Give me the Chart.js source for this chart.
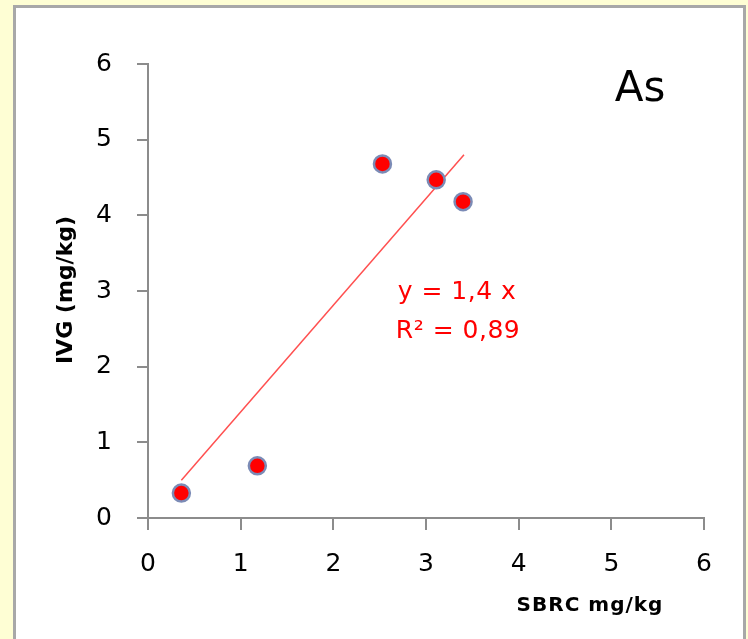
<!DOCTYPE html>
<html>
<head>
<meta charset="utf-8">
<script src="https://cdn.jsdelivr.net/npm/chart.js@4/dist/chart.umd.min.js"></script>
<style>
  html, body { margin: 0; padding: 0; }
  body { width: 748px; height: 639px; background: #fefed4; position: relative; overflow: hidden; }
  .frame { position: absolute; left: 13px; top: 5px; width: 727px; height: 650px; background: #fff; border: 3px solid #a8a8a8; }
  #wrap { position: absolute; left: 0; top: 0; width: 748px; height: 639px; }
</style>
</head>
<body>
<div class="frame"></div>
<div id="wrap"><canvas id="chart" width="748" height="639"></canvas></div>
<script>
// valori (SBRC vs IVG, As)
const sbrc = [0.36, 1.18, 2.53, 3.11, 3.40];
const ivg = [0.33, 0.69, 4.68, 4.47, 4.18];

// retta di tendenza y = 1,4 x (estremi letti)
const trendX = [0.36, 3.41];
const trendY = [0.50, 4.80];

const xTicks = [0, 1, 2, 3, 4, 5, 6];
const yTicks = [0, 1, 2, 3, 4, 5, 6];

const points = sbrc.map((x, i) => ({ x: x, y: ivg[i] }));
const trend = trendX.map((x, i) => ({ x: x, y: trendY[i] }));

const tickFont = { family: "DejaVu Sans", size: 25 };

// testi: titoli assi, etichetta As, equazione
const textPlugin = {
  id: "texts",
  afterDraw(chart) {
    const ctx = chart.ctx;
    ctx.save();
    ctx.fillStyle = "#000";
    ctx.textAlign = "center";
    ctx.textBaseline = "middle";

    ctx.font = "42px 'DejaVu Sans'";
    ctx.fillText("As", 640, 90);

    ctx.font = "bold 20px 'DejaVu Sans'";
    ctx.letterSpacing = "1px";
    ctx.fillText("SBRC mg/kg", 590, 606);

    ctx.save();
    ctx.translate(66, 290);
    ctx.rotate(-Math.PI / 2);
    ctx.letterSpacing = "0px";
    ctx.font = "bold 22px 'DejaVu Sans'";
    ctx.fillText("IVG (mg/kg)", 0, 0);
    ctx.restore();

    ctx.fillStyle = "#ff0000";
    ctx.font = "25px 'DejaVu Sans'";
    ctx.letterSpacing = "0.5px";
    ctx.fillText("y = 1,4 x", 457, 292);
    ctx.fillText("R\u00B2 = 0,89", 458, 331);
    ctx.restore();
  },
};

new Chart(document.getElementById("chart"), {
  type: "scatter",
  data: {
    datasets: [
      {
        label: "As",
        data: points,
        backgroundColor: "#ff0000",
        borderColor: "#7b8bb6",
        borderWidth: 2.5,
        pointRadius: 8.5,
        order: 1,
      },
      {
        type: "line",
        label: "trend",
        data: trend,
        borderColor: "#ff5050",
        borderWidth: 1.5,
        pointRadius: 0,
        fill: false,
        order: 2,
      },
    ],
  },
  options: {
    responsive: false,
    animation: false,
    layout: { padding: { top: 64, right: 44, left: 0, bottom: 0 } },
    plugins: {
      legend: { display: false },
      tooltip: { enabled: false },
    },
    scales: {
      x: {
        type: "linear",
        min: xTicks[0],
        max: xTicks[xTicks.length - 1],
        afterBuildTicks: (axis) => { axis.ticks = xTicks.map((v) => ({ value: v })); },
        afterFit: (axis) => { axis.height = 121; },
        border: { color: "#8c8c8c", width: 2 },
        grid: { drawOnChartArea: false, color: "#8c8c8c", lineWidth: 2, tickLength: 12 },
        ticks: { color: "#000", font: tickFont, padding: 19, maxRotation: 0 },
      },
      y: {
        type: "linear",
        min: yTicks[0],
        max: yTicks[yTicks.length - 1],
        afterBuildTicks: (axis) => { axis.ticks = yTicks.map((v) => ({ value: v })); },
        afterFit: (axis) => { axis.width = 148; },
        border: { color: "#8c8c8c", width: 2 },
        grid: { drawOnChartArea: false, color: "#8c8c8c", lineWidth: 2, tickLength: 11 },
        ticks: { color: "#000", font: tickFont, padding: 25 },
      },
    },
  },
  plugins: [textPlugin],
});
</script>
</body>
</html>
